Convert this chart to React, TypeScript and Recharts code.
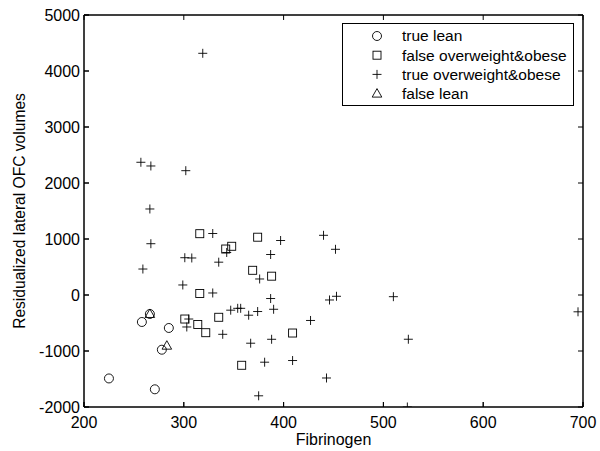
import React from "react";
import { Legend, ReferenceLine, Scatter, ScatterChart, XAxis, YAxis } from "recharts";

type Pt = { x: number; y: number };

// tick labels
const X_TICKS = [200, 300, 400, 500, 600, 700];
const Y_TICKS = [-2000, -1000, 0, 1000, 2000, 3000, 4000, 5000];

// fibrinogen vs residualized lateral OFC volume, read off the figure
const TRUE_LEAN: Pt[] = [
  { x: 225, y: -1490 },
  { x: 258, y: -482 },
  { x: 266, y: -339 },
  { x: 285, y: -589 },
  { x: 278, y: -977 },
  { x: 271, y: -1684 },
];

const FALSE_OVERWEIGHT: Pt[] = [
  { x: 316, y: 1095 },
  { x: 374, y: 1032 },
  { x: 348, y: 870 },
  { x: 342, y: 821 },
  { x: 369, y: 441 },
  { x: 388, y: 336 },
  { x: 316, y: 27 },
  { x: 301, y: -429 },
  { x: 314, y: -527 },
  { x: 322, y: -673 },
  { x: 335, y: -398 },
  { x: 409, y: -679 },
  { x: 358, y: -1255 },
];

const TRUE_OVERWEIGHT: Pt[] = [
  { x: 319, y: 4316 },
  { x: 257, y: 2370 },
  { x: 267, y: 2304 },
  { x: 302, y: 2220 },
  { x: 266, y: 1536 },
  { x: 267, y: 916 },
  { x: 259, y: 464 },
  { x: 301, y: 666 },
  { x: 308, y: 661 },
  { x: 329, y: 1098 },
  { x: 335, y: 586 },
  { x: 343, y: 759 },
  { x: 299, y: 179 },
  { x: 329, y: 36 },
  { x: 387, y: 723 },
  { x: 397, y: 973 },
  { x: 376, y: 286 },
  { x: 387, y: -63 },
  { x: 440, y: 1066 },
  { x: 452, y: 816 },
  { x: 446, y: -89 },
  { x: 453, y: -23 },
  { x: 347, y: -271 },
  { x: 354, y: -238 },
  { x: 357, y: -238 },
  { x: 365, y: -361 },
  { x: 374, y: -295 },
  { x: 390, y: -255 },
  { x: 305, y: -429 },
  { x: 303, y: -571 },
  { x: 339, y: -702 },
  { x: 367, y: -861 },
  { x: 388, y: -791 },
  { x: 427, y: -455 },
  { x: 381, y: -1200 },
  { x: 409, y: -1170 },
  { x: 443, y: -1482 },
  { x: 375, y: -1800 },
  { x: 510, y: -30 },
  { x: 525, y: -790 },
  { x: 695, y: -300 },
  { x: 524, y: -2000 },
];

const FALSE_LEAN: Pt[] = [
  { x: 266, y: -339 },
  { x: 283, y: -905 },
];

const LEGEND_NAMES = [
  "true lean",
  "false overweight&obese",
  "true overweight&obese",
  "false lean",
];

const INK = "#000";
const FONT = "'Liberation Sans', Arial, Helvetica, sans-serif";
const X_MIN = 200;
const X_MAX = 700;
const Y_MIN = -2000;
const Y_MAX = 5000;
// inward tick length, ~5px, in data units of each axis
const X_TICK_LEN = 5;
const Y_TICK_LEN = 89;

function Marker({ kind, cx, cy }: { kind: number; cx: number; cy: number }) {
  const sw = 0.9;
  if (kind === 0)
    return <circle cx={cx} cy={cy} r={4.5} fill="none" stroke={INK} strokeWidth={sw} />;
  if (kind === 1)
    return <rect x={cx - 4} y={cy - 4} width={8} height={8} fill="none" stroke={INK} strokeWidth={sw} />;
  if (kind === 2)
    return (
      <path d={`M${cx - 4.5},${cy}H${cx + 4.5}M${cx},${cy - 4.5}V${cy + 4.5}`} stroke={INK} strokeWidth={sw} />
    );
  return (
    <path
      d={`M${cx},${cy - 5}L${cx + 4.8},${cy + 3.5}L${cx - 4.8},${cy + 3.5}Z`}
      fill="none"
      stroke={INK}
      strokeWidth={sw}
    />
  );
}

function LegendBox() {
  return (
    <svg width={233} height={84} style={{ display: "block" }}>
      <rect x={0.5} y={0.5} width={231} height={82} fill="#fff" stroke={INK} strokeWidth={1} />
      {LEGEND_NAMES.map((name, i) => (
        <g key={name}>
          <Marker kind={i} cx={35} cy={13 + i * 19.2} />
          <text x={60} y={13 + i * 19.2} dy="0.35em" fontSize={15.5} fontFamily={FONT} fill={INK}>
            {name}
          </text>
        </g>
      ))}
    </svg>
  );
}

const tickStyle = { fontSize: 16, fontFamily: FONT, fill: INK };
const lineStyle = { stroke: INK, strokeWidth: 1 };

export default function App() {
  const shapeOf = (kind: number) => (p: any) => <Marker kind={kind} cx={p.cx} cy={p.cy} />;
  return (
    <div style={{ position: "absolute", left: 0, top: 0 }}>
      <ScatterChart width={600} height={451} margin={{ top: 14, right: 16, bottom: 0, left: 0 }}>
        <XAxis
          type="number"
          dataKey="x"
          domain={[X_MIN, X_MAX]}
          ticks={X_TICKS}
          allowDataOverflow
          height={44}
          tickSize={-5}
          tickMargin={15}
          axisLine={lineStyle}
          tickLine={lineStyle}
          tick={tickStyle}
          label={{
            content: (props: any) => {
              const vb = props.viewBox;
              return (
                <text x={vb.x + vb.width / 2} y={445} textAnchor="middle" fontSize={16} fontFamily={FONT} fill={INK}>
                  Fibrinogen
                </text>
              );
            },
          }}
        />
        <XAxis
          xAxisId="top"
          orientation="top"
          type="number"
          domain={[X_MIN, X_MAX]}
          ticks={X_TICKS}
          height={1}
          tickSize={-5}
          tick={false}
          axisLine={lineStyle}
          tickLine={lineStyle}
        />
        <YAxis
          type="number"
          dataKey="y"
          domain={[Y_MIN, Y_MAX]}
          ticks={Y_TICKS}
          allowDataOverflow
          width={84}
          tickSize={-5}
          tickMargin={9}
          axisLine={lineStyle}
          tickLine={lineStyle}
          tick={tickStyle}
          label={{
            content: (props: any) => {
              const vb = props.viewBox;
              const cx = 25;
              const cy = vb.y + vb.height / 2;
              return (
                <text
                  x={cx}
                  y={cy}
                  transform={`rotate(-90 ${cx} ${cy})`}
                  textAnchor="middle"
                  fontSize={15.6}
                  fontFamily={FONT}
                  fill={INK}
                >
                  Residualized lateral OFC volumes
                </text>
              );
            },
          }}
        />
        <YAxis
          yAxisId="right"
          orientation="right"
          type="number"
          domain={[Y_MIN, Y_MAX]}
          ticks={Y_TICKS}
          width={1}
          tickSize={-5}
          tick={false}
          axisLine={lineStyle}
          tickLine={lineStyle}
        />
        {/* box edges and inward ticks, in case the axis lines are dropped */}
        <ReferenceLine x={X_MIN} stroke={INK} ifOverflow="visible" />
        <ReferenceLine x={X_MAX} stroke={INK} ifOverflow="visible" />
        <ReferenceLine y={Y_MIN} stroke={INK} ifOverflow="visible" />
        <ReferenceLine y={Y_MAX} stroke={INK} ifOverflow="visible" />
        {X_TICKS.map((t) => (
          <ReferenceLine
            key={`xb${t}`}
            segment={[{ x: t, y: Y_MIN }, { x: t, y: Y_MIN + Y_TICK_LEN }]}
            stroke={INK}
            ifOverflow="visible"
          />
        ))}
        {X_TICKS.map((t) => (
          <ReferenceLine
            key={`xt${t}`}
            segment={[{ x: t, y: Y_MAX }, { x: t, y: Y_MAX - Y_TICK_LEN }]}
            stroke={INK}
            ifOverflow="visible"
          />
        ))}
        {Y_TICKS.map((t) => (
          <ReferenceLine
            key={`yl${t}`}
            segment={[{ x: X_MIN, y: t }, { x: X_MIN + X_TICK_LEN, y: t }]}
            stroke={INK}
            ifOverflow="visible"
          />
        ))}
        {Y_TICKS.map((t) => (
          <ReferenceLine
            key={`yr${t}`}
            segment={[{ x: X_MAX, y: t }, { x: X_MAX - X_TICK_LEN, y: t }]}
            stroke={INK}
            ifOverflow="visible"
          />
        ))}
        <Scatter name="true lean" data={TRUE_LEAN} shape={shapeOf(0)} isAnimationActive={false} />
        <Scatter name="false overweight&obese" data={FALSE_OVERWEIGHT} shape={shapeOf(1)} isAnimationActive={false} />
        <Scatter name="true overweight&obese" data={TRUE_OVERWEIGHT} shape={shapeOf(2)} isAnimationActive={false} />
        <Scatter name="false lean" data={FALSE_LEAN} shape={shapeOf(3)} isAnimationActive={false} />
        <Legend
          layout="horizontal"
          verticalAlign="middle"
          align="center"
          content={() => <LegendBox />}
          wrapperStyle={{ position: "absolute", left: 342, top: 23, width: 233, height: 84 }}
        />
      </ScatterChart>
    </div>
  );
}
